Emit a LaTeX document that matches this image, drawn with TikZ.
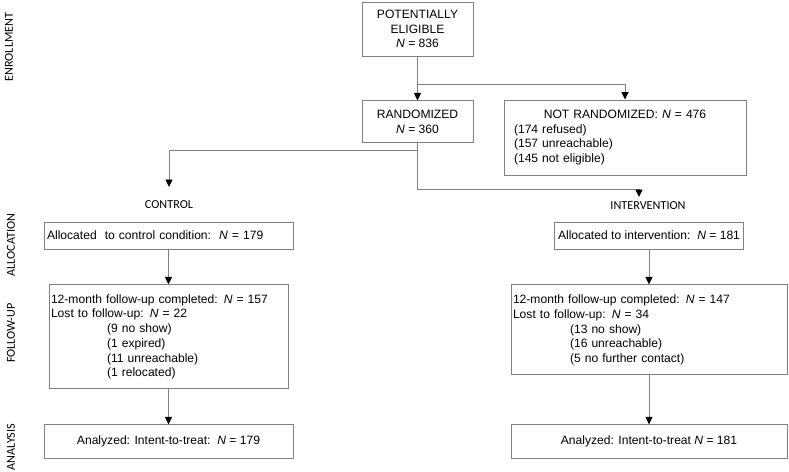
\documentclass[tikz,border=0pt]{standalone}
\usepackage{fontspec}
\setmainfont{Liberation Sans}
\newfontfamily\labelfont{Carlito}
\usepackage{tikz}
\usetikzlibrary{positioning,arrows.meta}
\definecolor{linegray}{RGB}{128,128,128}

\begin{document}
\begin{tikzpicture}[x=1pt, y=-1pt,
    box/.style={draw=linegray, rectangle, line width=0.9pt, inner sep=0pt, align=center,
        font=\fontsize{12.1}{14.7}\selectfont},
    arr/.style={draw=linegray, line width=0.9pt, -{Triangle[color=black, width=7pt, length=7.5pt]}},
    phase/.style={font=\labelfont\fontsize{12.2}{14}\selectfont, rotate=90},
    group/.style={font=\labelfont\fontsize{12.2}{14}\selectfont}]
    \useasboundingbox (0,0) rectangle (789,471);

    % enrollment
    \node (elig) [box, minimum width=111pt, minimum height=54pt] at (417.5,29) {POTENTIALLY\\ELIGIBLE\\\textit{N} = 836};
    \node (rand) [box, minimum width=111pt, minimum height=42pt, below=44pt of elig] {RANDOMIZED\\\textit{N} = 360};
    \node (notrand) [box, minimum height=75pt, inner xsep=10pt, text width=222pt, align=left] at (625,137.5)
        {\makebox[222pt]{NOT RANDOMIZED: \textit{N} = 476}\\(174 refused)\\(157 unreachable)\\(145 not eligible)};

    % groups
    \node (ctrl) [group] at (169,205) {CONTROL};
    \node (interv) [group] at (648,206) {INTERVENTION};
    \coordinate (ctrlin) at (169,187);
    \coordinate (intin) at (639,197);

    % control arm
    \node (allocC) [box, minimum width=249pt, minimum height=27pt, inner xsep=3pt, text width=243pt, align=left] at (168.5,235.5)
        {Allocated\ \ to control condition:\ \ \textit{N} = 179};
    \node (fuC) [box, minimum height=104pt, inner xsep=2pt, text width=235pt, align=left, below=35pt of allocC]
        {12-month follow-up completed: \textit{N} = 157\\Lost to follow-up: \textit{N} = 22\\
         \hspace*{56pt}(9 no show)\\\hspace*{56pt}(1 expired)\\\hspace*{56pt}(11 unreachable)\\\hspace*{56pt}(1 relocated)};
    \node (anC) [box, minimum width=249pt, minimum height=34pt, below=35pt of fuC]
        {Analyzed: Intent-to-treat:\ \ \textit{N} = 179};

    % intervention arm
    \node (allocI) [box, minimum width=189pt, minimum height=27pt] at (649,235.5)
        {Allocated to intervention:\ \ \textit{N} = 181};
    \node (fuI) [box, minimum height=90pt, inner xsep=2pt, text width=272pt, align=left, below=35pt of allocI]
        {12-month follow-up completed: \textit{N} = 147\\Lost to follow-up: \textit{N} = 34\\
         \hspace*{57pt}(13 no show)\\\hspace*{57pt}(16 unreachable)\\\hspace*{57pt}(5 no further contact)};
    \node (anI) [box, minimum width=276pt, minimum height=34pt, below=49pt of fuI]
        {Analyzed: Intent-to-treat \textit{N} = 181};

    % phases
    \node (enroll) [phase] at (9,47) {ENROLLMENT};
    \node (alloc) [phase] at (11,245) {ALLOCATION};
    \node (follow) [phase] at (11,333) {FOLLOW-UP};
    \node (analysis) [phase] at (11,447) {ANALYSIS};

    \draw[arr] (elig) -- (rand);
    \draw[arr] ([yshift=-28pt]elig.south) -| (notrand.north);
    \draw[arr] (rand.south) -- ++(0,7) -| (ctrlin);
    \draw[arr] (rand.south) -- ++(0,46) -| (intin);
    \draw[arr] (allocC) -- (fuC);
    \draw[arr] (fuC) -- (anC);
    \draw[arr] (allocI) -- (fuI);
    \draw[arr] (fuI) -- (anI);
\end{tikzpicture}
\end{document}
